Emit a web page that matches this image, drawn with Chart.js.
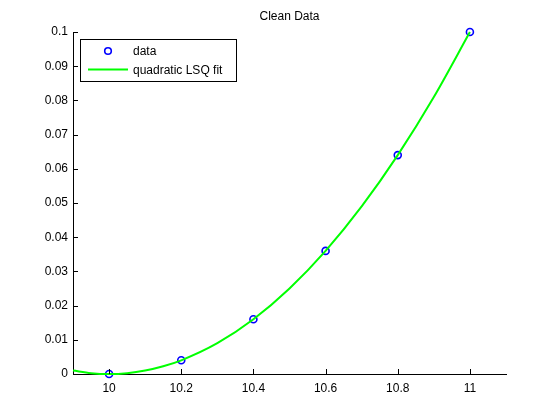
<!DOCTYPE html>
<html>
<head>
<meta charset="utf-8">
<script src="https://cdn.jsdelivr.net/npm/chart.js@4"></script>
<style>
  html, body { margin: 0; padding: 0; background: #fff; }
  #wrap { width: 560px; height: 420px; }
</style>
</head>
<body>
<div id="wrap"><canvas id="c" width="560" height="420"></canvas></div>
<script>
// data
const dataX = [10, 10.2, 10.4, 10.6, 10.8, 11];
const dataY = [0, 0.004, 0.016, 0.036, 0.064, 0.1];

// fitted curve, sampled by eye along the green line
const fitX = [9.9, 9.95, 10, 10.05, 10.1, 10.15, 10.2, 10.3, 10.4, 10.5, 10.6, 10.7, 10.8, 10.9, 11];
const fitY = [0.001, 0.00025, 0, 0.00025, 0.001, 0.00225, 0.004, 0.009, 0.016, 0.025, 0.036, 0.049, 0.064, 0.081, 0.1];

const xTicks = [10, 10.2, 10.4, 10.6, 10.8, 11];
const yTicks = [0, 0.01, 0.02, 0.03, 0.04, 0.05, 0.06, 0.07, 0.08, 0.09, 0.1];

const FONT = '"Liberation Sans", Arial, Helvetica, sans-serif';

// MATLAB-ish extras: inward tick marks, title, boxed legend
const matlabBits = {
  id: 'matlabBits',
  afterDraw(chart) {
    const ctx = chart.ctx;
    const xs = chart.scales.x, ys = chart.scales.y;
    const area = chart.chartArea;
    ctx.save();
    ctx.strokeStyle = '#000';
    ctx.lineWidth = 1;
    ctx.beginPath();
    xTicks.forEach(v => {
      const px = Math.round(xs.getPixelForValue(v)) + 0.5;
      ctx.moveTo(px, area.bottom);
      ctx.lineTo(px, area.bottom - 5);
    });
    yTicks.forEach(v => {
      const py = Math.round(ys.getPixelForValue(v)) + 0.5;
      ctx.moveTo(area.left, py);
      ctx.lineTo(area.left + 5, py);
    });
    ctx.stroke();

    // title
    ctx.fillStyle = '#000';
    ctx.font = '12px ' + FONT;
    ctx.textAlign = 'center';
    ctx.textBaseline = 'middle';
    ctx.fillText('Clean Data', (area.left + area.right) / 2, 17);

    // legend
    const ds = chart.data.datasets;
    const bx = 80.5, by = 39.5, bw = 156, bh = 42;
    ctx.fillStyle = '#fff';
    ctx.fillRect(bx, by, bw, bh);
    ctx.strokeStyle = '#000';
    ctx.strokeRect(bx, by, bw, bh);

    ctx.strokeStyle = ds[1].borderColor;
    ctx.lineWidth = 1.6;
    ctx.beginPath();
    ctx.arc(108, 51, 3.3, 0, Math.PI * 2);
    ctx.stroke();

    ctx.strokeStyle = ds[0].borderColor;
    ctx.lineWidth = 2;
    ctx.beginPath();
    ctx.moveTo(88, 69.5);
    ctx.lineTo(128, 69.5);
    ctx.stroke();

    ctx.fillStyle = '#000';
    ctx.textAlign = 'left';
    ctx.fillText(ds[1].label, 133, 52);
    ctx.fillText(ds[0].label, 133, 71);
    ctx.restore();
  }
};

new Chart(document.getElementById('c'), {
  type: 'scatter',
  data: {
    datasets: [
      {
        label: 'quadratic LSQ fit',
        data: fitX.map((x, i) => ({ x, y: fitY[i] })),
        showLine: true,
        borderColor: 'rgb(0,255,0)',
        borderWidth: 2,
        pointRadius: 0,
        cubicInterpolationMode: 'monotone',
        clip: false,
        order: 0,
      },
      {
        label: 'data',
        data: dataX.map((x, i) => ({ x, y: dataY[i] })),
        showLine: false,
        borderColor: 'rgb(0,0,255)',
        backgroundColor: 'rgba(0,0,0,0)',
        borderWidth: 1.6,
        pointRadius: 3.5,
        clip: false,
        order: 1,
      },
    ],
  },
  options: {
    responsive: false,
    animation: false,
    devicePixelRatio: 1,
    layout: { padding: { top: 32, right: 54, left: 0, bottom: 0 } },
    plugins: {
      legend: { display: false },
      tooltip: { enabled: false },
    },
    scales: {
      x: {
        type: 'linear',
        min: 9.9,
        max: 11.1,
        afterBuildTicks: s => { s.ticks = xTicks.map(v => ({ value: v })); },
        afterFit: s => { s.height = 46; },
        grid: { display: false, drawTicks: false },
        border: { display: true, color: '#000', width: 1 },
        ticks: {
          color: '#000',
          padding: 7,
          font: { family: FONT, size: 12 },
          callback: v => String(v),
        },
      },
      y: {
        type: 'linear',
        min: 0,
        max: 0.1,
        afterBuildTicks: s => { s.ticks = yTicks.map(v => ({ value: v })); },
        afterFit: s => { s.width = 73; },
        grid: { display: false, drawTicks: false },
        border: { display: true, color: '#000', width: 1 },
        ticks: {
          color: '#000',
          padding: 5,
          font: { family: FONT, size: 12 },
          callback: v => String(v),
        },
      },
    },
  },
  plugins: [matlabBits],
});
</script>
</body>
</html>
